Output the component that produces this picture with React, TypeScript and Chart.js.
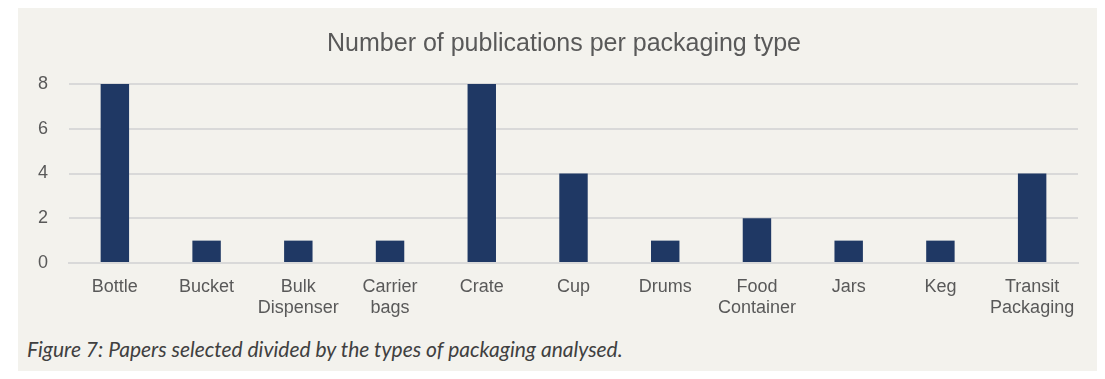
import React, { useEffect, useRef } from "react";
import { Chart, registerables } from "chart.js";

Chart.register(...registerables);

const categories: (string | string[])[] = [
  "Bottle",
  "Bucket",
  ["Bulk", "Dispenser"],
  ["Carrier", "bags"],
  "Crate",
  "Cup",
  "Drums",
  ["Food", "Container"],
  "Jars",
  "Keg",
  ["Transit", "Packaging"],
];
const publications = [8, 1, 1, 1, 8, 4, 1, 2, 1, 1, 4];
const yTicks = [0, 2, 4, 6, 8];
const chartTitle = "Number of publications per packaging type";
const caption = "Figure 7: Papers selected divided by the types of packaging analysed.";

const TEXT = "#595959";
const FONT = "'Liberation Sans', Arial, sans-serif";

export default function App() {
  const ref = useRef<HTMLCanvasElement | null>(null);
  useEffect(() => {
    if (!ref.current) return;
    const chart = new Chart(ref.current, {
      type: "bar",
      data: {
        labels: categories,
        datasets: [
          {
            data: publications,
            backgroundColor: "#1f3864",
            borderWidth: 0,
            categoryPercentage: 1,
            barPercentage: 0.31,
            yAxisID: "y",
          },
        ],
      },
      options: {
        animation: false,
        responsive: false,
        maintainAspectRatio: false,
        layout: { padding: { left: 0, right: 0, top: 0, bottom: 0 } },
        plugins: {
          legend: { display: false },
          tooltip: { enabled: false },
          title: {
            display: true,
            text: chartTitle,
            color: TEXT,
            font: { family: FONT, size: 25, weight: "normal" },
            padding: { top: 22, bottom: 25 },
          },
        },
        scales: {
          x: {
            grid: { display: false, drawTicks: false },
            border: { display: true, color: "#d9d9d9", width: 2 },
            ticks: {
              color: TEXT,
              font: { family: FONT, size: 18 },
              padding: 13,
              maxRotation: 0,
              autoSkip: false,
            },
            afterFit: (s: any) => {
              s.height = 54;
            },
          },
          y: {
            position: "left",
            min: 0,
            max: 8,
            afterBuildTicks: (s: any) => {
              s.ticks = yTicks.map((v) => ({ value: v }));
            },
            grid: { color: "#d9d9d9", lineWidth: 2, drawTicks: false },
            border: { display: false },
            ticks: {
              color: TEXT,
              font: { family: FONT, size: 18 },
              padding: 21,
            },
            afterFit: (s: any) => {
              s.width = 51;
            },
          },
          yRight: {
            position: "right",
            min: 0,
            max: 8,
            grid: { display: false, drawTicks: false },
            border: { display: false },
            ticks: { display: false },
            afterFit: (s: any) => {
              s.width = 32;
            },
          },
        },
      },
    });
    return () => chart.destroy();
  }, []);

  return (
    <div
      style={{
        position: "relative",
        width: 1105,
        height: 379,
        margin: -8,
        background: "#ffffff",
        overflow: "hidden",
      }}
    >
      <div
        style={{
          position: "absolute",
          left: 18,
          top: 7,
          width: 1082,
          height: 372,
          background: "#f3f2ed",
        }}
      />
      <canvas ref={ref} width={1092} height={310} style={{ position: "absolute", left: 18, top: 7 }} />
      <div
        style={{
          position: "absolute",
          left: 27,
          top: 336,
          fontFamily: "Lato, 'Open Sans', sans-serif",
          fontStyle: "italic",
          fontSize: 21,
          color: "#404040",
          whiteSpace: "nowrap",
        }}
      >
        {caption}
      </div>
    </div>
  );
}
